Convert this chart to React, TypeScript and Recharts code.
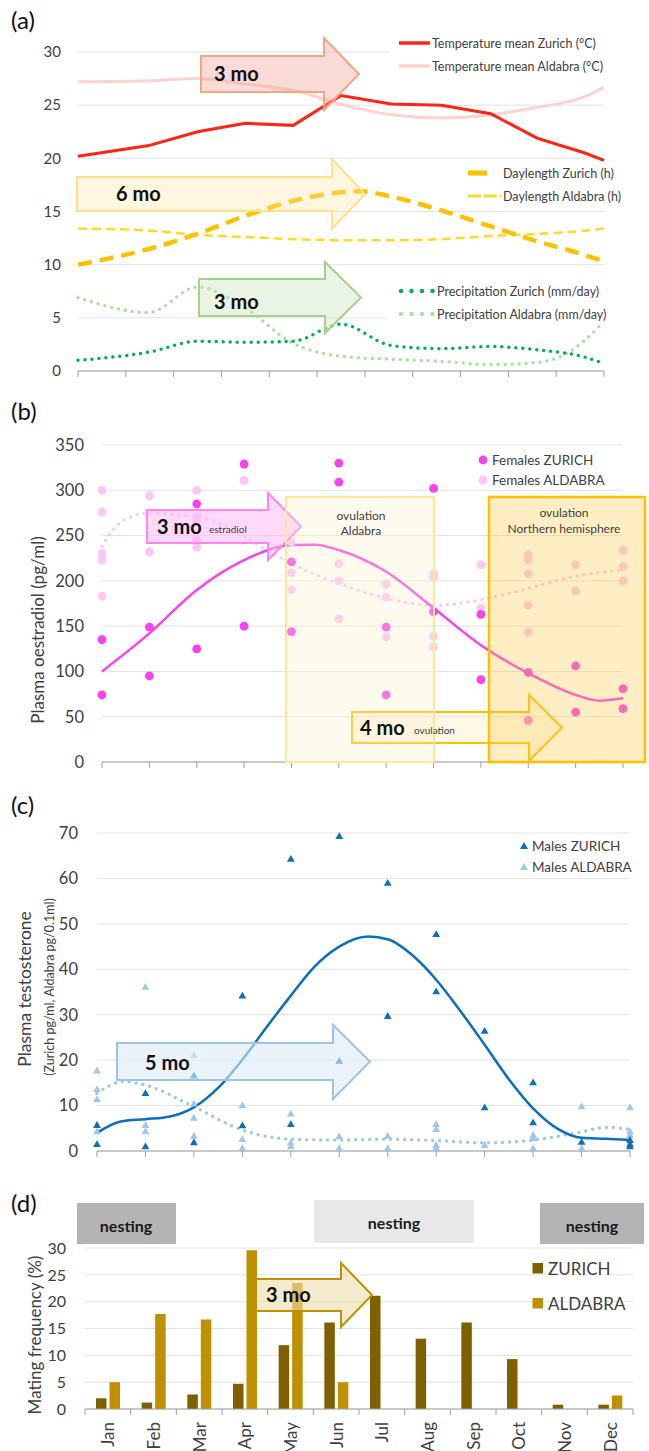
import { Bar, BarChart, CartesianGrid, ComposedChart, Line, Scatter, XAxis, YAxis } from "recharts";

const FONT = "Lato, 'Noto Sans', sans-serif";
const AXIS = "#a0a0a0";
const GRID = "#e3e3e3";
const INK = "#404040";

const MONTHS = ["Jan", "Feb", "Mar", "Apr", "May", "Jun", "Jul", "Aug", "Sep", "Oct", "Nov", "Dec"];
const MONTH_POS = MONTHS.map((_, i) => i);

// (a) climate, [month position, value]
const TEMP_ZURICH = [[0, 20.2], [1.48, 21.2], [2.5, 22.5], [3.5, 23.3], [4.5, 23.1], [5.5, 25.9], [6.55, 25.1], [7.6, 25.0], [8.63, 24.2], [9.6, 21.9], [10.6, 20.5], [11, 19.8]];
const TEMP_ALDABRA = [[0, 27.2], [1.5, 27.3], [2.5, 27.5], [3.5, 27.0], [4.5, 26.4], [5.5, 25.1], [6.55, 24.1], [7.6, 23.8], [8.63, 24.1], [9.6, 24.8], [10.6, 25.8], [11, 26.7]];
const DAY_ZURICH = [[0, 10.0], [1.5, 11.5], [2.5, 12.9], [3.5, 14.6], [4.5, 16.0], [5.5, 16.8], [5.9, 16.9], [6.55, 16.4], [7.6, 15.1], [8.63, 13.6], [9.6, 12.2], [10.6, 10.9], [11, 10.3]];
const DAY_ALDABRA = [[0, 13.4], [1.5, 13.2], [2.5, 12.8], [3.5, 12.6], [4.5, 12.4], [5.5, 12.3], [6.55, 12.3], [7.6, 12.4], [8.63, 12.7], [9.6, 12.9], [10.6, 13.2], [11, 13.4]];
const RAIN_ZURICH = [[0, 1.0], [1.5, 1.8], [2.5, 2.8], [3.5, 2.7], [4.5, 2.8], [5.5, 4.4], [6.55, 2.4], [7.6, 2.1], [8.63, 2.3], [9.6, 2.0], [10.6, 1.3], [11, 0.7]];
const RAIN_ALDABRA = [[0, 6.9], [1.48, 5.5], [2.5, 7.9], [3.5, 5.9], [4.5, 2.6], [5.5, 1.4], [6.55, 1.1], [7.6, 0.9], [8.63, 0.6], [9.6, 0.8], [10.2, 1.6], [10.6, 2.9], [10.9, 4.2]];

// (b) oestradiol, samples per month
const FEMALES_ZURICH = [[135, 74], [149, 95], [285, 125], [329, 150], [221, 144], [330, 309], [149, 74], [302, 166], [163, 91], [99, 46], [106, 55], [81, 59]];
const FEMALES_ALDABRA = [[300, 276, 230, 223, 183], [294, 232], [300, 271, 265, 245, 237], [311], [243, 209, 190], [219, 200, 158], [196, 182, 138], [208, 204, 139, 127], [218, 170], [229, 223, 208, 173, 143], [218, 189], [234, 216, 200]];
const TREND_F_ZURICH = [[0, 100], [1, 142], [2, 190], [3, 223], [4, 239.5], [4.5, 240], [5, 234], [6, 210], [7, 170], [8, 129], [9, 98], [10, 74], [10.5, 67.7], [11, 70.3]];
const TREND_F_ALDABRA = [[0, 238], [0.18, 253], [0.53, 269], [1, 274.6], [2, 271], [2.5, 263.5], [3, 248.8], [4, 219], [5, 197], [6, 180.7], [7, 173], [8, 179], [9, 191.8], [10, 205], [11, 212]];

// (c) testosterone, samples per month
const MALES_ZURICH = [[5.7, 1.5], [12.7, 1.0], [16.6, 1.9], [34.2, 5.6], [64.3, 5.9], [69.3, 19.8], [59.0, 29.7], [47.7, 35.1], [26.4, 9.6], [15.1, 6.3], [2.0], [2.4, 1.5, 1.0]];
const MALES_ALDABRA = [[17.7, 13.6, 11.4, 4.3], [36.1, 5.7, 4.3], [21.1, 10.4, 7.3, 3.3], [10.0, 2.6, 0.6], [8.2, 1.8, 1.0], [3.2, 0.6], [3.3, 0.6], [5.9, 4.8, 1.3, 0.6], [1.3], [3.5, 2.8, 0.6], [9.8, 0.6], [9.6, 4.3, 3.5]];
const TREND_M_ZURICH = [[0, 4.0], [0.49, 6.5], [1, 7.0], [1.51, 7.6], [2, 9.6], [2.53, 14.2], [3, 20.1], [3.51, 27.4], [4, 34.2], [4.49, 40.6], [5, 45.0], [5.6, 47.2], [6, 46.6], [6.54, 42.8], [7, 37.7], [7.48, 31.1], [8, 23.4], [8.5, 15.8], [9, 9.4], [9.52, 4.8], [10, 2.9], [10.5, 2.7], [11, 2.4]];
const TREND_M_ALDABRA = [[0, 12.7], [0.55, 15.3], [1, 14.5], [2, 9.75], [3, 4.6], [4, 2.6], [5, 2.4], [6, 2.6], [7, 2.3], [8, 1.8], [9, 2.4], [10, 4.2], [10.5, 5.2], [11, 4.8]];

// (d) mating frequency (%)
const MATING_ZURICH = [2.0, 1.2, 2.7, 4.7, 11.9, 16.1, 21.1, 13.1, 16.1, 9.3, 0.8, 0.8];
const MATING_ALDABRA = [5.0, 17.7, 16.7, 29.6, 23.5, 5.0, 0, 0, 0, 0, 0, 2.5];

const C = {
  tempZ: "#ff2414",
  tempA: "#fbd3cf",
  dayZ: "#ffc000",
  dayA: "#ffd92e",
  rainZ: "#00b050",
  rainA: "#a8e2a0",
  femZ: "#f942ef",
  femA: "#fcc6f5",
  maleZ: "#0b6fc0",
  maleA: "#a0c6e9",
  barZ: "#7f6000",
  barA: "#bf9000",
};

const toPoints = (pairs: number[][]) => pairs.map(([x, y]) => ({ x, y }));
const byMonth = (lists: number[][]) => lists.flatMap((vals, i) => vals.map((y) => ({ x: i, y })));
const noLabel = () => <g />;
const yTick = (size: number) => ({ fill: INK, fontSize: size, fontFamily: FONT });

const triangle = (fill: string) => (p: any) => (
  <polygon points={`${p.cx},${p.cy - 4} ${p.cx - 3.9},${p.cy + 2.8} ${p.cx + 3.9},${p.cy + 2.8}`} fill={fill} />
);
const circle = (fill: string) => (p: any) => <circle cx={p.cx} cy={p.cy} r={4.4} fill={fill} />;

function ClimateChart() {
  return (
    <ComposedChart width={649} height={385} margin={{ top: 52, right: 45, bottom: 0, left: 18 }}>
      <CartesianGrid vertical={false} stroke={GRID} />
      <XAxis type="number" dataKey="x" domain={[0, 11]} ticks={MONTH_POS} tick={noLabel} tickSize={6} height={14} axisLine={{ stroke: AXIS }} tickLine={{ stroke: AXIS }} />
      <YAxis type="number" dataKey="y" domain={[0, 30]} ticks={[0, 5, 10, 15, 20, 25, 30]} width={60} axisLine={false} tickLine={false} tickSize={0} tickMargin={17} tick={yTick(15)} />
      <Line data={toPoints(TEMP_ALDABRA)} dataKey="y" type="monotone" stroke={C.tempA} strokeWidth={3} dot={false} activeDot={false} isAnimationActive={false} />
      <Line data={toPoints(TEMP_ZURICH)} dataKey="y" type="linear" stroke={C.tempZ} strokeWidth={3} dot={false} activeDot={false} isAnimationActive={false} />
      <Line data={toPoints(DAY_ALDABRA)} dataKey="y" type="monotone" stroke={C.dayA} strokeWidth={2.5} strokeDasharray="9 5" dot={false} activeDot={false} isAnimationActive={false} />
      <Line data={toPoints(DAY_ZURICH)} dataKey="y" type="monotone" stroke={C.dayZ} strokeWidth={4.5} strokeDasharray="14 8" dot={false} activeDot={false} isAnimationActive={false} />
      <Line data={toPoints(RAIN_ALDABRA)} dataKey="y" type="monotone" stroke={C.rainA} strokeWidth={3.5} strokeDasharray="0 7" strokeLinecap="round" dot={false} activeDot={false} isAnimationActive={false} />
      <Line data={toPoints(RAIN_ZURICH)} dataKey="y" type="monotone" stroke={C.rainZ} strokeWidth={3.5} strokeDasharray="0 7" strokeLinecap="round" dot={false} activeDot={false} isAnimationActive={false} />
    </ComposedChart>
  );
}

function OestradiolChart() {
  return (
    <ComposedChart width={649} height={391} margin={{ top: 60, right: 26, bottom: 0, left: 32 }}>
      <CartesianGrid vertical={false} stroke={GRID} />
      <XAxis type="number" dataKey="x" domain={[0, 11]} ticks={MONTH_POS} tick={noLabel} tickSize={6} height={14} axisLine={{ stroke: AXIS }} tickLine={{ stroke: AXIS }} />
      <YAxis type="number" dataKey="y" domain={[0, 350]} ticks={[0, 50, 100, 150, 200, 250, 300, 350]} width={70} axisLine={false} tickLine={false} tickSize={0} tickMargin={18} tick={yTick(16.5)} />
      <Scatter data={byMonth(FEMALES_ALDABRA)} dataKey="y" shape={circle(C.femA)} isAnimationActive={false} />
      <Scatter data={byMonth(FEMALES_ZURICH)} dataKey="y" shape={circle(C.femZ)} isAnimationActive={false} />
      <Line data={toPoints(TREND_F_ALDABRA)} dataKey="y" type="monotone" stroke={C.femA} strokeWidth={3.5} strokeDasharray="0 7" strokeLinecap="round" dot={false} activeDot={false} isAnimationActive={false} />
      <Line data={toPoints(TREND_F_ZURICH)} dataKey="y" type="monotone" stroke={C.femZ} strokeWidth={2.5} dot={false} activeDot={false} isAnimationActive={false} />
    </ComposedChart>
  );
}

function TestosteroneChart() {
  return (
    <ComposedChart width={649} height={389} margin={{ top: 57, right: 19, bottom: 0, left: 27 }}>
      <CartesianGrid vertical={false} stroke={GRID} />
      <XAxis type="number" dataKey="x" domain={[0, 11]} ticks={MONTH_POS} tick={noLabel} tickSize={6} height={14} axisLine={{ stroke: AXIS }} tickLine={{ stroke: AXIS }} />
      <YAxis type="number" dataKey="y" domain={[0, 70]} ticks={[0, 10, 20, 30, 40, 50, 60, 70]} width={70} axisLine={false} tickLine={false} tickSize={0} tickMargin={19} tick={yTick(16.5)} />
      <Scatter data={byMonth(MALES_ALDABRA)} dataKey="y" shape={triangle(C.maleA)} isAnimationActive={false} />
      <Scatter data={byMonth(MALES_ZURICH)} dataKey="y" shape={triangle(C.maleZ)} isAnimationActive={false} />
      <Line data={toPoints(TREND_M_ALDABRA)} dataKey="y" type="monotone" stroke={C.maleA} strokeWidth={3.5} strokeDasharray="0 7" strokeLinecap="round" dot={false} activeDot={false} isAnimationActive={false} />
      <Line data={toPoints(TREND_M_ZURICH)} dataKey="y" type="monotone" stroke={C.maleZ} strokeWidth={2.5} dot={false} activeDot={false} isAnimationActive={false} />
    </ComposedChart>
  );
}

const D_PLOT_W = 548;

function MonthTick({ x, y, payload, index }: any) {
  const half = D_PLOT_W / MONTHS.length / 2;
  return (
    <g>
      <line x1={x - half} x2={x - half} y1={y} y2={y + 6} stroke={AXIS} />
      {index === MONTHS.length - 1 && <line x1={x + half} x2={x + half} y1={y} y2={y + 6} stroke={AXIS} />}
      <text x={x} y={y + 13} transform={`rotate(-90 ${x} ${y + 13})`} textAnchor="end" dominantBaseline="central" fill={INK} fontSize={17} fontFamily={FONT}>
        {payload.value}
      </text>
    </g>
  );
}

function MatingChart() {
  const data = MONTHS.map((month, i) => ({ month, zurich: MATING_ZURICH[i], aldabra: MATING_ALDABRA[i] }));
  return (
    <BarChart width={649} height={291} data={data} margin={{ top: 88, right: 16, bottom: 0, left: 25 }} barGap={3} barSize={10.5}>
      <CartesianGrid vertical={false} stroke={GRID} />
      <XAxis dataKey="month" interval={0} height={42} tickSize={0} tickMargin={0} tickLine={false} axisLine={{ stroke: AXIS }} tick={<MonthTick />} />
      <YAxis domain={[0, 30]} ticks={[0, 5, 10, 15, 20, 25, 30]} width={60} axisLine={false} tickLine={false} tickSize={0} tickMargin={19} tick={yTick(16)} />
      <Bar dataKey="zurich" fill={C.barZ} isAnimationActive={false} />
      <Bar dataKey="aldabra" fill={C.barA} isAnimationActive={false} />
    </BarChart>
  );
}

function Arrow({ x0, x1, tip, y0, y1, h0, h1, fill, stroke }: any) {
  const mid = (y0 + y1) / 2;
  return (
    <polygon
      points={`${x0},${y0} ${x1},${y0} ${x1},${h0} ${tip},${mid} ${x1},${h1} ${x1},${y1} ${x0},${y1}`}
      fill={fill}
      stroke={stroke}
      strokeWidth={2}
      strokeLinejoin="miter"
    />
  );
}

function Label({ x, y, size, children, bold, anchor, fill }: any) {
  return (
    <text x={x} y={y} fontSize={size} fontFamily={FONT} fontWeight={bold ? 700 : 400} textAnchor={anchor || "start"} dominantBaseline="central" fill={fill || INK}>
      {children}
    </text>
  );
}

function Overlay() {
  return (
    <svg width={649} height={1451} style={{ position: "absolute", left: 0, top: 0, pointerEvents: "none" }}>
      {/* panel (a) */}
      <text x={11} y={29} fontSize={24} fontFamily={FONT} fill="#111">(a)</text>
      <rect x={390} y={30} width={240} height={50} fill="#fff" />
      <rect x={387} y={280} width={250} height={44} fill="#fff" />
      <Arrow x0={201} x1={324} tip={359} y0={56} y1={92} h0={38} h1={110} fill="rgba(245,165,155,0.4)" stroke="#f2a77f" />
      <Label x={214} y={73} size={20} bold fill="#111">3 mo</Label>
      <Arrow x0={77} x1={332} tip={365} y0={177} y1={211} h0={159} h1={229} fill="rgba(255,228,160,0.32)" stroke="#ffe08a" />
      <Label x={116} y={193} size={20} bold fill="#111">6 mo</Label>
      <Arrow x0={199} x1={325} tip={361} y0={279} y1={316} h0={262} h1={333} fill="rgba(200,225,185,0.38)" stroke="#a8d08d" />
      <Label x={214} y={301} size={20} bold fill="#111">3 mo</Label>
      <line x1={399} x2={430} y1={43} y2={43} stroke={C.tempZ} strokeWidth={3.5} />
      <Label x={432} y={43} size={12.5}>Temperature mean Zurich (°C)</Label>
      <line x1={399} x2={430} y1={66} y2={66} stroke={C.tempA} strokeWidth={3.5} />
      <Label x={432} y={66} size={12.5}>Temperature mean Aldabra (°C)</Label>
      <line x1={468} x2={487} y1={173} y2={173} stroke={C.dayZ} strokeWidth={5} />
      <Label x={503} y={173} size={12.5}>Daylength Zurich (h)</Label>
      <line x1={468} x2={501} y1={196} y2={196} stroke={C.dayA} strokeWidth={3} strokeDasharray="13 3" />
      <Label x={503} y={196} size={12.5}>Daylength Aldabra (h)</Label>
      <line x1={401} x2={434} y1={291} y2={291} stroke={C.rainZ} strokeWidth={4.5} strokeDasharray="0 10.5" strokeLinecap="round" />
      <Label x={437} y={291} size={12.5}>Precipitation Zurich (mm/day)</Label>
      <line x1={401} x2={434} y1={314} y2={314} stroke={C.rainA} strokeWidth={4.5} strokeDasharray="0 10.5" strokeLinecap="round" />
      <Label x={437} y={314} size={12.5}>Precipitation Aldabra (mm/day)</Label>

      {/* panel (b) */}
      <text x={11} y={420} fontSize={24} fontFamily={FONT} fill="#111">(b)</text>
      <text x={37} y={630} transform="rotate(-90 37 630)" fontSize={17} fontFamily={FONT} textAnchor="middle" dominantBaseline="central" fill={INK}>Plasma oestradiol (pg/ml)</text>
      <circle cx={483} cy={460} r={4.4} fill={C.femZ} />
      <Label x={492} y={460} size={13.5}>Females ZURICH</Label>
      <circle cx={483} cy={480} r={4.4} fill={C.femA} />
      <Label x={492} y={480} size={13.5}>Females ALDABRA</Label>
      <Arrow x0={147} x1={268} tip={301} y0={510} y1={543} h0={493} h1={560} fill="rgba(255,186,250,0.55)" stroke="#ff85f0" />
      <Arrow x0={352} x1={529} tip={562} y0={712} y1={743} h0={695} h1={761} fill="rgba(255,236,190,0.35)" stroke="#ffc000" />
      <rect x={286} y={497} width={148} height={265} fill="rgba(255,240,200,0.3)" stroke="#ffe699" strokeWidth={2} />
      <rect x={489} y={497} width={156} height={265} fill="rgba(255,200,60,0.3)" stroke="#ffc000" strokeWidth={2.5} />
      <Label x={157} y={526} size={20} bold fill="#111">3 mo</Label>
      <Label x={209} y={529} size={10}>estradiol</Label>
      <Label x={360} y={727} size={20} bold fill="#111">4 mo</Label>
      <Label x={414} y={730} size={10}>ovulation</Label>
      <Label x={361} y={515} size={12} anchor="middle">ovulation</Label>
      <Label x={361} y={530} size={12} anchor="middle">Aldabra</Label>
      <Label x={564} y={512} size={12} anchor="middle">ovulation</Label>
      <Label x={564} y={528} size={12} anchor="middle">Northern hemisphere</Label>

      {/* panel (c) */}
      <text x={11} y={814} fontSize={24} fontFamily={FONT} fill="#111">(c)</text>
      <text x={24} y={989} transform="rotate(-90 24 989)" fontSize={17.5} fontFamily={FONT} textAnchor="middle" dominantBaseline="central" fill={INK}>Plasma testosterone</text>
      <text x={49} y={987} transform="rotate(-90 49 987)" fontSize={12.5} fontFamily={FONT} textAnchor="middle" dominantBaseline="central" fill={INK}>(Zurich pg/ml, Aldabra pg/0.1ml)</text>
      <polygon points="524,842 520,849 528,849" fill={C.maleZ} />
      <Label x={532} y={846} size={13.5}>Males ZURICH</Label>
      <polygon points="524,863 520,870 528,870" fill={C.maleA} />
      <Label x={532} y={867} size={13.5}>Males ALDABRA</Label>
      <Arrow x0={117} x1={333} tip={370} y0={1043} y1={1080} h0={1025} h1={1099} fill="rgba(222,235,247,0.6)" stroke="#9dc3e6" />
      <Label x={145} y={1062} size={20} bold fill="#111">5 mo</Label>

      {/* panel (d) */}
      <text x={11} y={1212} fontSize={24} fontFamily={FONT} fill="#111">(d)</text>
      <text x={34} y={1335} transform="rotate(-90 34 1335)" fontSize={17} fontFamily={FONT} textAnchor="middle" dominantBaseline="central" fill={INK}>Mating frequency (%)</text>
      <rect x={77} y={1203} width={99} height={41} fill="#b4b4b4" />
      <Label x={126} y={1225} size={16} bold anchor="middle" fill="#1a1a1a">nesting</Label>
      <rect x={314} y={1200} width={160} height={43} fill="#e8e8e8" />
      <Label x={394} y={1222} size={16} bold anchor="middle" fill="#1a1a1a">nesting</Label>
      <rect x={540} y={1203} width={104} height={41} fill="#b4b4b4" />
      <Label x={592} y={1225} size={16} bold anchor="middle" fill="#1a1a1a">nesting</Label>
      <Arrow x0={256} x1={341} tip={372} y0={1279} y1={1311} h0={1263} h1={1327} fill="rgba(236,220,170,0.6)" stroke="#bf9000" />
      <Label x={266} y={1294} size={20} bold fill="#111">3 mo</Label>
      <rect x={532.5} y={1263} width={10.5} height={10.5} fill={C.barZ} />
      <Label x={548} y={1268} size={17}>ZURICH</Label>
      <rect x={532.5} y={1298} width={10.5} height={10.5} fill={C.barA} />
      <Label x={548} y={1303.5} size={17}>ALDABRA</Label>
    </svg>
  );
}

export default function App() {
  return (
    <div style={{ position: "absolute", left: 0, top: 0, width: 649, height: 1451, background: "#fff", fontFamily: FONT, overflow: "hidden" }}>
      <div style={{ position: "absolute", left: 0, top: 0 }}>
        <ClimateChart />
      </div>
      <div style={{ position: "absolute", left: 0, top: 385 }}>
        <OestradiolChart />
      </div>
      <div style={{ position: "absolute", left: 0, top: 776 }}>
        <TestosteroneChart />
      </div>
      <div style={{ position: "absolute", left: 0, top: 1160 }}>
        <MatingChart />
      </div>
      <Overlay />
    </div>
  );
}
